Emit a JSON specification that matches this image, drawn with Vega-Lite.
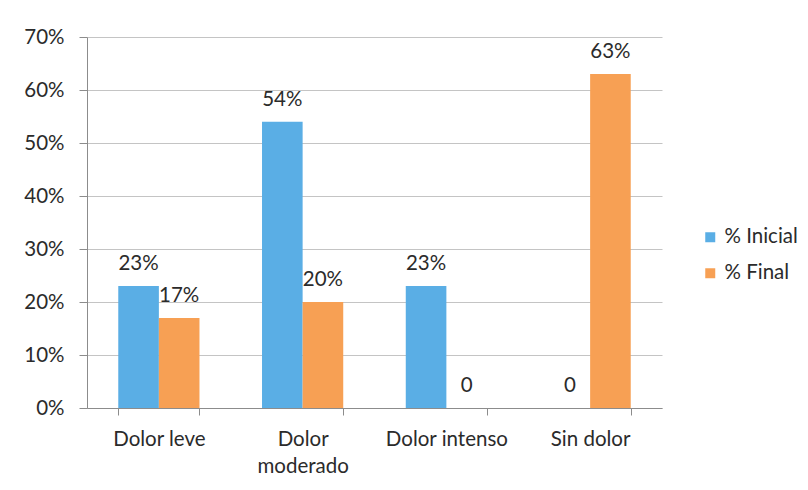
{
  "$schema": "https://vega.github.io/schema/vega-lite/v6.json",
  "width": 575,
  "height": 371,
  "autosize": {"type": "none"},
  "padding": {"left": 87, "top": 37, "right": 146, "bottom": 82},
  "background": "white",
  "config": {
    "view": {"stroke": null},
    "font": "Lato",
    "text": {"font": "Lato"}
  },
  "data": {
    "values": [
      {"categoria": "Dolor leve", "serie": "% Inicial", "valor": 0.23},
      {"categoria": "Dolor leve", "serie": "% Final", "valor": 0.17},
      {"categoria": "Dolor moderado", "serie": "% Inicial", "valor": 0.54},
      {"categoria": "Dolor moderado", "serie": "% Final", "valor": 0.20},
      {"categoria": "Dolor intenso", "serie": "% Inicial", "valor": 0.23},
      {"categoria": "Dolor intenso", "serie": "% Final", "valor": 0},
      {"categoria": "Sin dolor", "serie": "% Inicial", "valor": 0},
      {"categoria": "Sin dolor", "serie": "% Final", "valor": 0.63}
    ]
  },
  "transform": [
    {"calculate": "datum.valor === 0 ? '0' : format(datum.valor, '.0%')", "as": "etiqueta"}
  ],
  "encoding": {
    "x": {
      "field": "categoria",
      "type": "nominal",
      "sort": ["Dolor leve", "Dolor moderado", "Dolor intenso", "Sin dolor"],
      "scale": {"paddingInner": 0.435, "paddingOuter": 0.2175},
      "axis": {
        "title": null,
        "labelAngle": 0,
        "tickBand": "extent",
        "domainColor": "#8c8c8c",
        "tickColor": "#8c8c8c",
        "tickSize": 7,
        "labelPadding": 14,
        "labelFont": "Lato",
        "labelFontSize": 20.5,
        "labelColor": "#2b2b2b",
        "labelLineHeight": 27,
        "labelOverlap": false,
        "labelExpr": "datum.label === 'Dolor moderado' ? ['Dolor', 'moderado'] : datum.label"
      }
    },
    "xOffset": {"field": "serie", "sort": ["% Inicial", "% Final"]},
    "y": {
      "field": "valor",
      "type": "quantitative",
      "scale": {"domain": [0, 0.7], "nice": false},
      "axis": {
        "title": null,
        "values": [0, 0.1, 0.2, 0.3, 0.4, 0.5, 0.6, 0.7],
        "format": ".0%",
        "grid": true,
        "gridColor": "#c4c4c4",
        "domainColor": "#8c8c8c",
        "tickColor": "#8c8c8c",
        "tickSize": 8,
        "labelPadding": 15,
        "labelFont": "Lato",
        "labelFontSize": 20.5,
        "labelColor": "#2b2b2b"
      }
    }
  },
  "layer": [
    {
      "mark": {"type": "bar"},
      "encoding": {
        "color": {
          "field": "serie",
          "type": "nominal",
          "sort": ["% Inicial", "% Final"],
          "scale": {"domain": ["% Inicial", "% Final"], "range": ["#5AAEE5", "#F7A054"]},
          "legend": {
            "title": null,
            "orient": "none",
            "legendX": 613,
            "legendY": 190,
            "symbolType": "square",
            "symbolSize": 100,
            "symbolStrokeWidth": 0,
            "labelFont": "Lato",
            "labelFontSize": 20.5,
            "labelColor": "#2b2b2b",
            "labelOffset": 4,
            "rowPadding": 15
          }
        }
      }
    },
    {
      "mark": {"type": "text", "baseline": "alphabetic", "dy": -16, "fontSize": 20.5, "color": "#2b2b2b"},
      "encoding": {"text": {"field": "etiqueta"}}
    }
  ]
}
